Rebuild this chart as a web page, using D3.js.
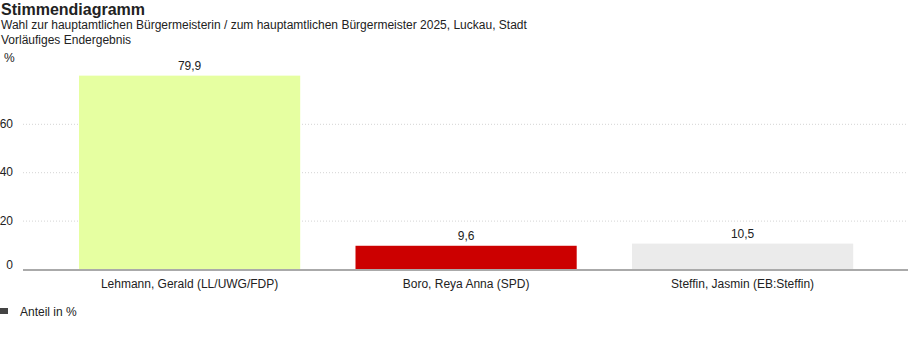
<!DOCTYPE html>
<html>
<head>
<meta charset="utf-8">
<script src="https://cdn.jsdelivr.net/npm/d3@7"></script>
<style>
    body { margin: 0; background: #fff; font-family: "Liberation Sans", Arial, sans-serif; }
    svg text { font-family: "Liberation Sans", Arial, sans-serif; fill: #222; }
</style>
</head>
<body>
<svg id="chart" width="908" height="352"></svg>
<script>
const candidates = [
    "Lehmann, Gerald (LL/UWG/FDP)",
    "Boro, Reya Anna (SPD)",
    "Steffin, Jasmin (EB:Steffin)"
];
const shares = [79.9, 9.6, 10.5];
const barColors = ["#e6ffa1", "#cc0000", "#ebebeb"];
const yTicks = [0, 20, 40, 60];

const width = 908;
const height = 352;

const svg = d3.select("#chart");

// titles
svg.append("text")
    .attr("x", 1).attr("y", 15)
    .style("font-size", "16px").style("font-weight", "bold")
    .text("Stimmendiagramm");
svg.append("text")
    .attr("x", 1).attr("y", 29)
    .style("font-size", "12px")
    .text("Wahl zur hauptamtlichen Bürgermeisterin / zum hauptamtlichen Bürgermeister 2025, Luckau, Stadt");
svg.append("text")
    .attr("x", 1).attr("y", 44)
    .style("font-size", "12px")
    .text("Vorläufiges Endergebnis");
svg.append("text")
    .attr("x", 4).attr("y", 62)
    .style("font-size", "12px")
    .text("%");

// scales
const xScale = d3.scaleBand()
    .domain(candidates)
    .range([51.35, 880.85])
    .paddingInner(0.2)
    .paddingOuter(0.1);

const yScale = d3.scaleLinear()
    .domain([0, 80])
    .range([269, 75.4]);

// grid lines
svg.append("g")
    .selectAll("line")
    .data(yTicks.filter(function (d) { return d > 0; }))
    .join("line")
    .attr("x1", 23).attr("x2", width)
    .attr("y1", function (d) { return yScale(d) + 0.5; })
    .attr("y2", function (d) { return yScale(d) + 0.5; })
    .attr("stroke", "#d4d4d4")
    .attr("stroke-dasharray", "1,2");

// y tick labels
svg.append("g")
    .selectAll("text")
    .data(yTicks)
    .join("text")
    .attr("x", 13)
    .attr("y", function (d) { return yScale(d) + 4 - (d === 0 ? 4 : 0); })
    .attr("text-anchor", "end")
    .style("font-size", "12px")
    .text(function (d) { return d; });

// bars
svg.append("g")
    .selectAll("rect")
    .data(shares)
    .join("rect")
    .attr("x", function (d, i) { return xScale(candidates[i]); })
    .attr("width", xScale.bandwidth())
    .attr("y", function (d) { return yScale(d); })
    .attr("height", function (d) { return yScale(0) - yScale(d); })
    .attr("fill", function (d, i) { return barColors[i]; });

// value labels
svg.append("g")
    .selectAll("text")
    .data(shares)
    .join("text")
    .attr("x", function (d, i) { return xScale(candidates[i]) + xScale.bandwidth() / 2; })
    .attr("y", function (d) { return yScale(d) - 6; })
    .attr("text-anchor", "middle")
    .style("font-size", "12px")
    .text(function (d) { return d3.format(".1f")(d).replace(".", ","); });

// baseline
svg.append("line")
    .attr("x1", 23).attr("x2", width)
    .attr("y1", yScale(0) + 1).attr("y2", yScale(0) + 1)
    .attr("stroke", "#aaaaaa")
    .attr("stroke-width", 2);

// x labels
svg.append("g")
    .selectAll("text")
    .data(candidates)
    .join("text")
    .attr("x", function (d) { return xScale(d) + xScale.bandwidth() / 2; })
    .attr("y", 288)
    .attr("text-anchor", "middle")
    .style("font-size", "12px")
    .text(function (d) { return d; });

// legend
svg.append("rect")
    .attr("x", 0).attr("y", 308)
    .attr("width", 8).attr("height", 6)
    .attr("fill", "#444");
svg.append("text")
    .attr("x", 20).attr("y", 316)
    .style("font-size", "12px")
    .text("Anteil in %");
</script>
</body>
</html>
